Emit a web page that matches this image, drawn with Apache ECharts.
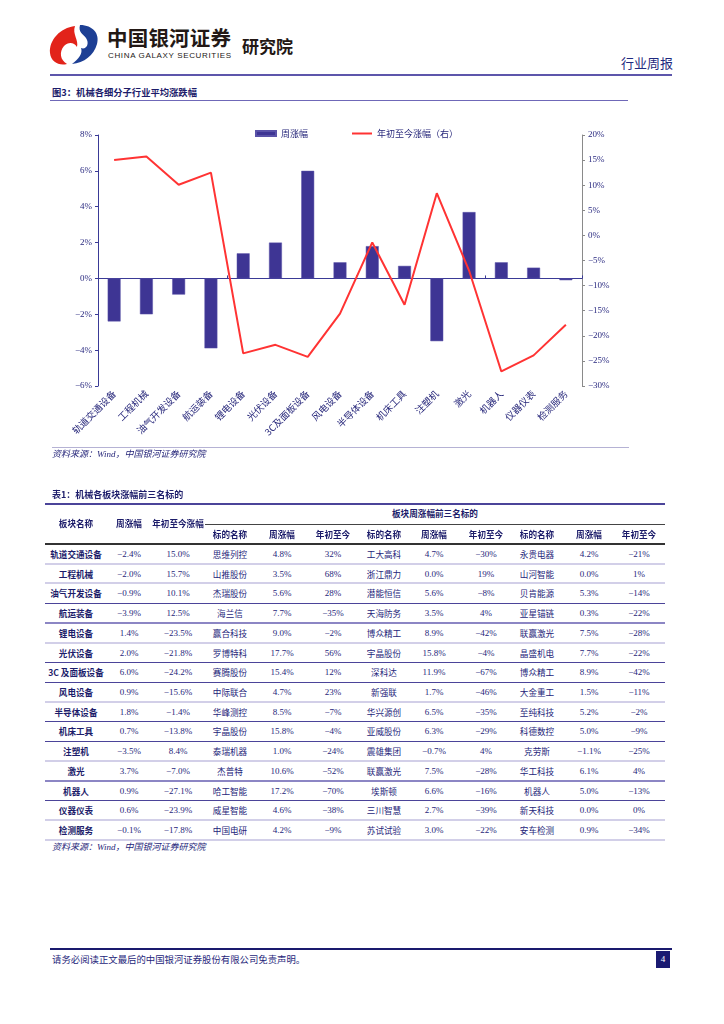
<!DOCTYPE html>
<html><head><meta charset="utf-8">
<script src="https://cdn.jsdelivr.net/npm/echarts@6/dist/echarts.min.js"></script>
<style>
html,body{margin:0;padding:0;background:#fff;}
body{width:724px;height:1024px;position:relative;overflow:hidden;font-family:"Noto Sans CJK SC",sans-serif;}
.abs{position:absolute;white-space:nowrap;line-height:1;}
.hl{position:absolute;}
.cell{position:absolute;white-space:nowrap;line-height:1;transform:translate(-50%,-50%);font-size:8.6px;color:#26267a;}
.num{font-family:"Liberation Serif",serif;font-size:9px;}
.bold{font-weight:bold;color:#1c1c6a;}
</style></head>
<body>
<svg class="abs" style="left:47px;top:23px" width="54" height="44" viewBox="0 0 54 44">
  <path d="M28 3 C13 5 2 17 3 30 C4 39 12 43 20 41 C13 37 12 29 17 23 C21 19 27 19 30 24 C32 17 25 11 28 3 Z" fill="#e2231a"/>
  <path d="M33 2 C46 2 53 11 50 21 C47 32 37 40 25 41 C32 36 36 30 34 25 C39 27 43 21 39 15 C36 11 31 9 33 2 Z" fill="#1d3f94"/>
</svg>
<div class="abs" style="left:107px;top:27px;font-size:20.5px;font-weight:bold;color:#231815;letter-spacing:0.2px">中国银河证券</div>
<div class="abs" style="left:108px;top:52px;font-size:8px;font-family:'Liberation Sans',Arial,sans-serif;color:#231815;letter-spacing:0.65px">CHINA GALAXY SECURITIES</div>
<div class="abs" style="left:242px;top:37px;font-size:17px;font-weight:bold;color:#231815">研究院</div>
<div class="abs" style="left:621px;top:56px;font-size:13px;color:#1f2a80">行业周报</div>
<div class="hl" style="left:50px;top:74px;width:622px;height:1.5px;background:#5d56ab"></div>
<div class="abs" style="left:52px;top:88px;font-size:9.3px;font-weight:bold;color:#1c1c6a">图3：机械各细分子行业平均涨跌幅</div>
<div class="hl" style="left:50px;top:100px;width:578px;height:1px;background:#6f68b8"></div>
<div id="chart" style="position:absolute;left:0;top:110px;width:724px;height:345px"></div>
<div class="hl" style="left:52px;top:447px;width:577px;height:1px;background:#b5b2d4"></div>
<div class="abs" style="left:52px;top:449px;font-size:9px;font-style:italic;color:#26267a">资料来源：<span style="font-family:'Liberation Serif',serif">Wind</span>，中国银河证券研究院</div>

<div class="abs" style="left:52px;top:490px;font-size:9px;font-weight:bold;color:#1c1c6a">表1：机械各板块涨幅前三名标的</div>
<div id="table"></div>
<div class="abs" id="tsrc" style="left:52px;top:842px;font-size:9px;font-style:italic;color:#26267a">资料来源：<span style="font-family:'Liberation Serif',serif">Wind</span>，中国银河证券研究院</div>

<div class="hl" style="left:50px;top:948px;width:622px;height:1.5px;background:#1a1a6e"></div>
<div class="abs" style="left:52px;top:955px;font-size:9.4px;color:#26267a">请务必阅读正文最后的中国银河证券股份有限公司免责声明。</div>
<div class="hl" style="left:656px;top:951px;width:14px;height:17px;background:#1a1a72;color:#fff;font-family:'Liberation Serif',serif;font-size:9px;line-height:17px;text-align:center">4</div>

<script>
// ---- chart data ----
var categories = ['轨道交通设备','工程机械','油气开发设备','航运装备','锂电设备','光伏设备','3C及面板设备','风电设备','半导体设备','机床工具','注塑机','激光','机器人','仪器仪表','检测服务'];
var weekly = [-2.4,-2.0,-0.9,-3.9,1.4,2.0,6.0,0.9,1.8,0.7,-3.5,3.7,0.9,0.6,-0.1];
var ytd = [15.0,15.7,10.1,12.5,-23.5,-21.8,-24.2,-15.6,-1.4,-13.8,8.4,-7.0,-27.1,-23.9,-17.8];
var seriesNames = ['周涨幅','年初至今涨幅（右）'];

// ---- table data ----
var tableSectors = ['轨道交通设备','工程机械','油气开发设备','航运装备','锂电设备','光伏设备','3C 及面板设备','风电设备','半导体设备','机床工具','注塑机','激光','机器人','仪器仪表','检测服务'];
var top1Names = ['思维列控','山推股份','杰瑞股份','海兰信','赢合科技','罗博特科','赛腾股份','中际联合','华峰测控','宇晶股份','泰瑞机器','杰普特','哈工智能','威星智能','中国电研'];
var top1Week = ['4.8%','3.5%','5.6%','7.7%','9.0%','17.7%','15.4%','4.7%','8.5%','15.8%','1.0%','10.6%','17.2%','4.6%','4.2%'];
var top1Ytd = ['32%','68%','28%','−35%','−2%','56%','12%','23%','−7%','−4%','−24%','−52%','−70%','−38%','−9%'];
var top2Names = ['工大高科','浙江鼎力','潜能恒信','天海防务','博众精工','宇晶股份','深科达','新强联','华兴源创','亚威股份','震雄集团','联赢激光','埃斯顿','三川智慧','苏试试验'];
var top2Week = ['4.7%','0.0%','5.6%','3.5%','8.9%','15.8%','11.9%','1.7%','6.5%','6.3%','−0.7%','7.5%','6.6%','2.7%','3.0%'];
var top2Ytd = ['−30%','19%','−8%','4%','−42%','−4%','−67%','−46%','−35%','−29%','4%','−28%','−16%','−39%','−22%'];
var top3Names = ['永贵电器','山河智能','贝肯能源','亚星锚链','联赢激光','晶盛机电','博众精工','大金重工','至纯科技','科德数控','克劳斯','华工科技','机器人','新天科技','安车检测'];
var top3Week = ['4.2%','0.0%','5.3%','0.3%','7.5%','7.7%','8.9%','1.5%','5.2%','5.0%','−1.1%','6.1%','5.0%','0.0%','0.9%'];
var top3Ytd = ['−21%','1%','−14%','−22%','−28%','−22%','−42%','−11%','−2%','−9%','−25%','4%','−13%','0%','−34%'];
var headerTop = ['板块名称','周涨幅','年初至今涨幅'];
var headerGroup = '板块周涨幅前三名标的';
var headerSub = ['标的名称','周涨幅','年初至今'];

function pct(v, d){ var s = v.toFixed(d) + '%'; return s.replace('-', '−'); }

var chart = echarts.init(document.getElementById('chart'), null, {renderer:'canvas'});
var axisLabelStyle = {fontFamily:'Liberation Serif', fontSize:9, color:'#2a2a80'};
chart.setOption({
  animation:false,
  legend:{
    top:14, left:250, itemGap:44, itemWidth:20, itemHeight:5,
    textStyle:{fontFamily:'Noto Sans CJK SC', fontSize:9, color:'#26267a'},
    data:[{name:seriesNames[0], icon:'rect'},
          {name:seriesNames[1], icon:'path://M0 0 H20 V2 H0 Z', itemStyle:{color:'#ff3333'}}]
  },
  grid:{left:98, right:142, top:25, bottom:69},
  xAxis:[
    {type:'category', data:categories, boundaryGap:true,
     axisLine:{onZero:true, onZeroAxisIndex:0, lineStyle:{color:'#3a3a96', width:1}},
     axisTick:{show:true, inside:true, length:3, lineStyle:{color:'#3a3a96'}},
     axisLabel:{show:false}, splitLine:{show:false}},
    {type:'category', data:categories, position:'bottom', boundaryGap:true,
     axisLine:{show:false, onZero:false}, axisTick:{show:false},
     axisLabel:{rotate:45, margin:6, interval:0, fontFamily:'Noto Sans CJK SC', fontSize:9.5, color:'#26267a'}}
  ],
  yAxis:[
    {type:'value', min:-6, max:8, interval:2, position:'left',
     axisLine:{show:true, lineStyle:{color:'#3a3a96'}},
     axisTick:{show:true, length:3, lineStyle:{color:'#3a3a96'}},
     axisLabel:Object.assign({margin:6, formatter:function(v){return pct(v,0);}}, axisLabelStyle),
     splitLine:{show:false}},
    {type:'value', min:-30, max:20, interval:5, position:'right',
     axisLine:{show:true, lineStyle:{color:'#8a8a8a'}},
     axisTick:{show:true, length:3, lineStyle:{color:'#8a8a8a'}},
     axisLabel:Object.assign({margin:6, formatter:function(v){return pct(v,0);}}, axisLabelStyle),
     splitLine:{show:false}}
  ],
  series:[
    {name:seriesNames[0], type:'bar', data:weekly, xAxisIndex:0, yAxisIndex:0, barWidth:'40%',
     itemStyle:{color:'#3e3594', borderColor:'#5a52a8', borderWidth:0.5}},
    {name:seriesNames[1], type:'line', data:ytd, xAxisIndex:0, yAxisIndex:1, symbol:'none',
     lineStyle:{color:'#ff3333', width:2}, itemStyle:{color:'#ff3333'}}
  ]
});

// ---- table ----
(function(){
  var t = document.getElementById('table');
  var html = '';
  var cx = [76,129,178,230,282,333,384,434,486,537,589,639];
  var L = 45, R = 665, rowH = 19.73, y0 = 544;
  function line(x1, x2, y, h, c){ html += '<div class="hl" style="left:'+x1+'px;top:'+(y - h/2)+'px;width:'+(x2-x1)+'px;height:'+h+'px;background:'+c+'"></div>'; }
  function cell(x, y, txt, cls){ html += '<div class="cell '+cls+'" style="left:'+x+'px;top:'+y+'px">'+txt+'</div>'; }
  line(L, R, 504, 1.2, '#4b4499');
  line(205, R, 524, 1, '#444');
  line(L, R, y0, 1.6, '#333');
  for (var k=0;k<3;k++) cell(cx[k], 523, headerTop[k], 'bold');
  cell(435, 513, headerGroup, 'bold');
  for (var g=0; g<3; g++) for (var k2=0;k2<3;k2++) cell(cx[3+g*3+k2], 534, headerSub[k2], 'bold');
  var sepStyle = ['l','l','d','m','l','d','d','l','d','d','l','m','d','l','l'];
  var sepMap = {l:[2,'#d2cfe8'], m:[1.5,'#8c86c4'], d:[1,'#4b4499']};
  for (var i=0;i<tableSectors.length;i++){
    var y = y0 + rowH*(i+0.5);
    var row = [
      [tableSectors[i],'bold'], [pct(weekly[i],1),'num'], [pct(ytd[i],1),'num'],
      [top1Names[i],''], [top1Week[i],'num'], [top1Ytd[i],'num'],
      [top2Names[i],''], [top2Week[i],'num'], [top2Ytd[i],'num'],
      [top3Names[i],''], [top3Week[i],'num'], [top3Ytd[i],'num']
    ];
    for (var j=0;j<row.length;j++) cell(cx[j], y, row[j][0], row[j][1]);
    var s = sepMap[sepStyle[i]];
    line(L, R, y0 + rowH*(i+1), s[0], s[1]);
  }
  t.innerHTML = html;
})();
</script>
</body></html>
